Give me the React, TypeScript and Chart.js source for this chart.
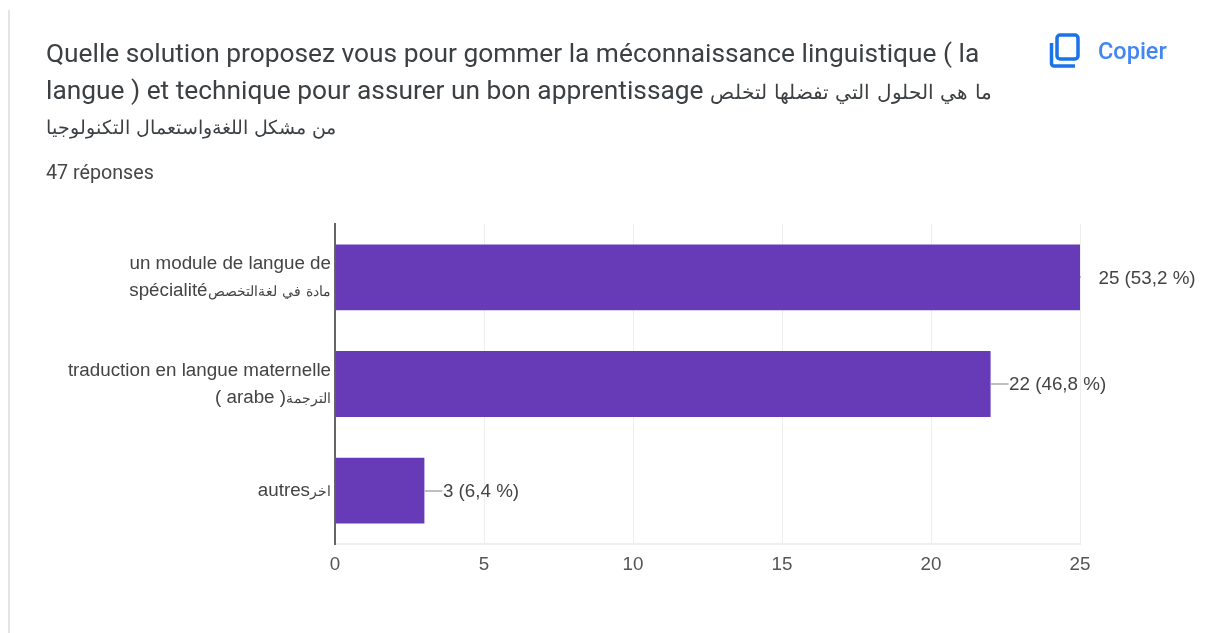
import React, { useEffect, useRef } from "react";
import { Chart, registerables } from "chart.js";

Chart.register(...registerables);

const categories = [
  ["un module de langue de", "spécialitéمادة في لغةالتخصص"],
  ["traduction en langue maternelle", "( arabe )الترجمة"],
  ["autresاخر"],
];
const responses = [25, 22, 3];
const valueLabels = ["25 (53,2 %)", "22 (46,8 %)", "3 (6,4 %)"];
const titleLines = [
  "Quelle solution proposez vous pour gommer la méconnaissance linguistique ( la",
  "langue ) et technique pour assurer un bon apprentissage ما هي الحلول التي تفضلها لتخلص",
  "من مشكل اللغةواستعمال التكنولوجيا",
];
const countLabel = "47 réponses";
const copyLabel = "Copier";

const FONT = 'ArabicSmall, "Liberation Sans", "DejaVu Sans", sans-serif';
const TITLE_FONT = 'ArabicSmall, Roboto, "DejaVu Sans", sans-serif';
const FONT_CSS = `@font-face { font-family: ArabicSmall; src: local("DejaVu Sans"); unicode-range: U+0600-06FF; size-adjust: 77%; }`;

const leaderPlugin = {
  id: "valueLeaders",
  afterDatasetsDraw(chart: any) {
    const { ctx } = chart;
    const meta = chart.getDatasetMeta(0);
    const maxValue = Math.max(...responses);
    ctx.save();
    ctx.font = `18.8px ${FONT}`;
    ctx.textBaseline = "middle";
    ctx.textAlign = "left";
    meta.data.forEach((bar: any, i: number) => {
      const y = bar.y;
      const stub = responses[i] === maxValue ? 1 : 18;
      ctx.strokeStyle = "#aaaaaa";
      ctx.lineWidth = 1.5;
      ctx.beginPath();
      ctx.moveTo(bar.x, Math.round(y));
      ctx.lineTo(bar.x + stub, Math.round(y));
      ctx.stroke();
      ctx.fillStyle = "#444444";
      ctx.fillText(valueLabels[i], bar.x + 18.5, y + 1);
    });
    ctx.restore();
  },
};

export default function App() {
  const ref = useRef<HTMLCanvasElement>(null);
  useEffect(() => {
    document.body.style.margin = "0";
    document.body.style.background = "#ffffff";
    const chart = new Chart(ref.current as HTMLCanvasElement, {
      type: "bar",
      data: {
        labels: categories as any,
        datasets: [
          {
            data: responses,
            backgroundColor: "#673ab7",
            borderWidth: 0,
            barPercentage: 0.617,
            categoryPercentage: 1,
          },
        ],
      },
      plugins: [leaderPlugin],
      options: {
        indexAxis: "y",
        responsive: false,
        animation: false,
        maintainAspectRatio: false,
        layout: { padding: { top: 224, right: 127, bottom: 0, left: 0 } },
        plugins: { legend: { display: false }, tooltip: { enabled: false }, title: { display: false } },
        scales: {
          x: {
            min: 0,
            max: 25,
            afterFit: (s: any) => {
              s.height = 89;
            },
            ticks: {
              stepSize: 5,
              color: "#555555",
              font: { family: FONT, size: 18.8 },
              padding: 10,
              maxRotation: 0,
            },
            grid: { color: "#eeeeee", lineWidth: 1, drawTicks: false },
            border: { color: "#eeeeee", width: 2 },
          },
          y: {
            afterFit: (s: any) => {
              s.width = 335;
            },
            ticks: {
              color: "#444444",
              font: { family: FONT, size: 18.8, lineHeight: 1.42 },
              padding: 4,
              autoSkip: false,
            },
            grid: { display: false, drawTicks: false },
            border: { color: "#666666", width: 2 },
          },
        },
      },
    } as any);
    let alive = true;
    document.fonts.load(`18px ArabicSmall`, "م").then(() => {
      if (alive) chart.update("none");
    });
    return () => {
      alive = false;
      chart.destroy();
    };
  }, []);

  const line = (top: number, text: string, extra: React.CSSProperties = {}) => (
    <div
      key={text}
      style={{
        position: "absolute",
        left: 46,
        top,
        whiteSpace: "nowrap",
        fontFamily: TITLE_FONT,
        fontSize: 26.3,
        lineHeight: "30px",
        color: "#3c4043",
        ...extra,
      }}
    >
      {text}
    </div>
  );

  return (
    <div style={{ position: "relative", width: 1207, height: 633, overflow: "hidden", background: "#fff" }}>
      <style>{FONT_CSS}</style>
      <canvas ref={ref} width={1207} height={633} style={{ position: "absolute", left: 0, top: 0, display: "block" }} />
      <div style={{ position: "absolute", left: 8, top: 10, width: 2, height: 623, background: "#e3e4e8" }} />
      {line(38, titleLines[0])}
      {line(75, titleLines[1])}
      {line(111, titleLines[2], { fontSize: 24.4 })}
      {line(158, countLabel, { fontSize: 19.7, color: "#444746" })}
      <svg style={{ position: "absolute", left: 1047, top: 31 }} width={36} height={40} viewBox="0 0 36 40">
        <path
          d="M13 4 h15 a3 3 0 0 1 3 3 v18 a3 3 0 0 1 -3 3 h-15 a3 3 0 0 1 -3 -3 v-18 a3 3 0 0 1 3 -3 z M4.5 12 v20.5 a2.5 2.5 0 0 0 2.5 2.5 h21"
          fill="none"
          stroke="#1a73e8"
          strokeWidth={3.5}
        />
      </svg>
      <div
        style={{
          position: "absolute",
          left: 1098,
          top: 37,
          fontFamily: TITLE_FONT,
          fontSize: 23.5,
          lineHeight: "28px",
          fontWeight: 500,
          color: "#4285f4",
        }}
      >
        {copyLabel}
      </div>
    </div>
  );
}
